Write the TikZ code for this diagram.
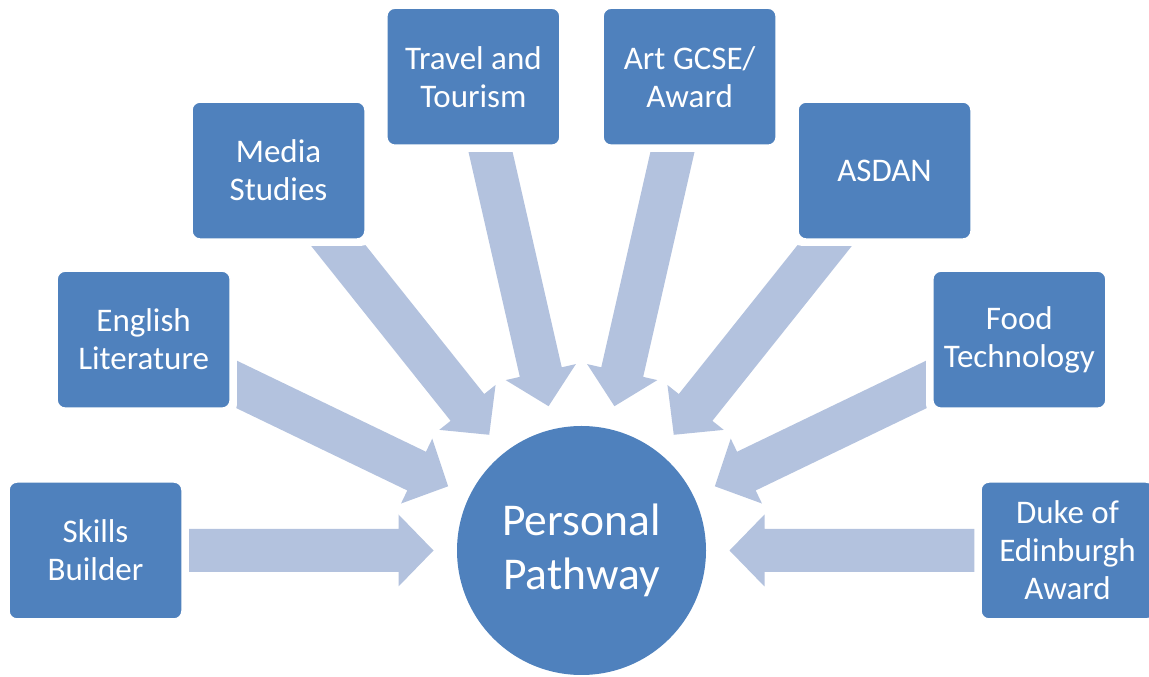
\documentclass[tikz,border=0pt]{standalone}
\usepackage{fontspec}
\setmainfont{Carlito}
\usetikzlibrary{calc,backgrounds}
\definecolor{boxblue}{RGB}{79,129,189}
\definecolor{arrowblue}{RGB}{179,194,222}
\begin{document}
\begin{tikzpicture}[x=1pt,y=1pt,
  item/.style={draw=white, line width=1.5pt, fill=boxblue, rounded corners=8pt,
    minimum width=173pt, minimum height=137pt, inner sep=0pt, align=center,
    text=white, font=\fontsize{33}{38}\selectfont},
  hub/.style={circle, fill=boxblue, minimum size=249pt, inner sep=0pt, align=center,
    text=white, font=\fontsize{45.5}{54}\selectfont},
  flow/.style={fill=arrowblue},
  gap/.style={fill=white, rounded corners=10pt}]
\useasboundingbox (0,0) rectangle (1149,677);
\coordinate (o) at (581.5,126.5);
\node[hub] (pp) at (o) {Personal\\Pathway};
\node[item] (sb) at ($(o)+(180:486)$) {Skills\\Builder};
\node[item] (el) at ($(o)+(154.2857:486)$) {English\\Literature};
\node[item] (ms) at ($(o)+(128.5714:486)$) {Media\\Studies};
\node[item] (tt) at ($(o)+(102.8571:486)$) {Travel and\\Tourism};
\node[item] (ag) at ($(o)+(77.1429:486)$) {Art GCSE/\\Award};
\node[item] (as) at ($(o)+(51.4286:486)$) {ASDAN};
\node[item] (ft) at ($(o)+(25.7143:486)$) {Food\\Technology};
\node[item] (de) at ($(o)+(0:486)$) {Duke of\\Edinburgh\\Award};
\begin{scope}[on background layer]
\foreach \n/\a in {sb/180, el/154.2857, ms/128.5714, tt/102.8571, ag/77.1429, as/51.4286, ft/25.7143, de/0}{
  \fill[flow, shift={(o)}, rotate=\a] (148,0) -- (183,36) -- (183,21.5) -- (486,21.5)
    -- (486,-21.5) -- (183,-21.5) -- (183,-36) -- cycle;
  \fill[gap] ($(\n.south west)+(-6,-6)$) rectangle ($(\n.north east)+(6,6)$);
}
\end{scope}
\end{tikzpicture}
\end{document}
